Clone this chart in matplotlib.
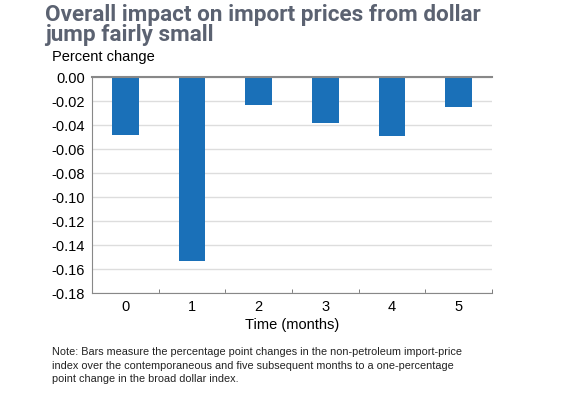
import numpy as np
import matplotlib.pyplot as plt

plt.rcParams['font.family'] = ['Liberation Sans', 'DejaVu Sans']

months = ['0', '1', '2', '3', '4', '5']
impact = [-0.048, -0.153, -0.023, -0.038, -0.049, -0.025]
yticks = [0.00, -0.02, -0.04, -0.06, -0.08, -0.10, -0.12, -0.14, -0.16, -0.18]

fig = plt.figure(figsize=(5.69, 3.98), dpi=100)
ax = fig.add_axes([92/569, 1-293/398, 400/569, 216/398])

x = np.arange(len(months))
ax.bar(x, impact, width=0.4, color='#1a70b8', zorder=3)

ax.set_xlim(-0.5, 5.5)
ax.set_ylim(-0.18, 0.0)
ax.set_yticks(yticks)
ax.set_yticklabels(['%.2f' % v for v in yticks], fontsize=10.5)
ax.yaxis.grid(True, color='#dddddd', linewidth=1, zorder=0)
ax.tick_params(axis='y', length=0, pad=5)

ax.set_xticks(x)
ax.set_xticklabels(months, fontsize=10.5)
ax.set_xticks(np.arange(-0.5, 6, 1), minor=True)
ax.tick_params(axis='x', which='major', length=0, pad=5)
ax.tick_params(axis='x', which='minor', direction='in', length=3, color='#666666')

ax.spines['top'].set_color('#888888')
ax.spines['top'].set_linewidth(1.5)
ax.spines['top'].set_zorder(4)
ax.spines['right'].set_visible(False)
ax.spines['left'].set_color('#888888')
ax.spines['bottom'].set_color('#888888')

ax.set_xlabel('Time (months)', fontsize=10.5, labelpad=3)

fig.text(45/569, 1-4/398, 'Overall impact on import prices from dollar\njump fairly small',
         fontsize=16.2, fontweight='bold', color='#5b6271', family='Roboto',
         linespacing=0.88, va='top')
fig.text(52/569, 1-57/398, 'Percent change', fontsize=10.5, va='center')

fig.text(52/569, 1-347/398,
         'Note: Bars measure the percentage point changes in the non-petroleum import-price\n'
         'index over the contemporaneous and five subsequent months to a one-percentage\n'
         'point change in the broad dollar index.',
         fontsize=7.8, va='top', linespacing=1.45, color='#222222')

fig.savefig('out.png', dpi=100)
